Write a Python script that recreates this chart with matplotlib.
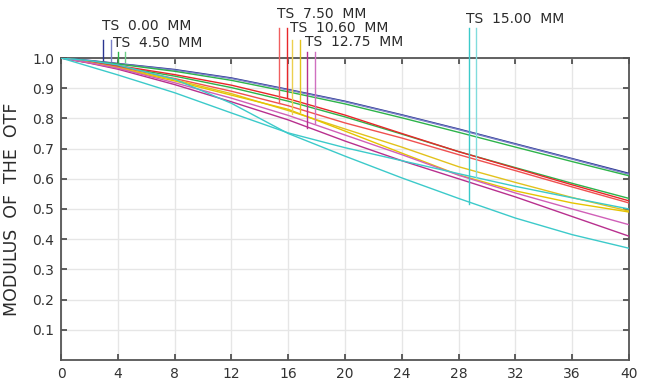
import matplotlib.pyplot as plt

# spatial frequency (cycles/mm)
freq = [0, 2, 4, 8, 12, 16, 20, 24, 28, 32, 36, 40]

# modulus of the OTF, one list per field / orientation
mtf_000_a = [1.0, 0.992, 0.982, 0.962, 0.934, 0.896, 0.857, 0.812, 0.765, 0.716, 0.667, 0.618]
mtf_000_b = [1.0, 0.991, 0.981, 0.960, 0.932, 0.894, 0.855, 0.810, 0.763, 0.714, 0.665, 0.615]
mtf_450_a = [1.0, 0.990, 0.980, 0.956, 0.926, 0.888, 0.848, 0.802, 0.754, 0.705, 0.657, 0.610]
mtf_450_b = [1.0, 0.987, 0.972, 0.940, 0.902, 0.857, 0.805, 0.748, 0.690, 0.637, 0.585, 0.535]
mtf_750_a = [1.0, 0.988, 0.975, 0.945, 0.910, 0.865, 0.811, 0.750, 0.690, 0.635, 0.580, 0.527]
mtf_750_b = [1.0, 0.985, 0.970, 0.932, 0.890, 0.842, 0.785, 0.735, 0.680, 0.627, 0.573, 0.520]
mtf_1060_a = [1.0, 0.985, 0.968, 0.928, 0.882, 0.826, 0.765, 0.705, 0.640, 0.588, 0.538, 0.493]
mtf_1060_b = [1.0, 0.984, 0.966, 0.924, 0.877, 0.830, 0.758, 0.685, 0.613, 0.560, 0.520, 0.490]
mtf_1275_a = [1.0, 0.983, 0.963, 0.912, 0.855, 0.795, 0.725, 0.660, 0.600, 0.540, 0.475, 0.410]
mtf_1275_b = [1.0, 0.984, 0.966, 0.918, 0.867, 0.810, 0.745, 0.680, 0.612, 0.553, 0.500, 0.448]
mtf_1500_a = [1.0, 0.972, 0.944, 0.885, 0.818, 0.752, 0.703, 0.660, 0.617, 0.575, 0.537, 0.500]
mtf_1500_b = [1.0, 0.991, 0.977, 0.930, 0.850, 0.750, 0.675, 0.603, 0.535, 0.470, 0.415, 0.370]

curves = [mtf_000_a, mtf_000_b, mtf_450_a, mtf_450_b, mtf_750_a, mtf_750_b,
          mtf_1060_a, mtf_1060_b, mtf_1275_a, mtf_1275_b, mtf_1500_a, mtf_1500_b]
colors = ['#2a3590', '#7a80c8', '#2db34a', '#2db34a', '#e8262a', '#f05050',
          '#e2c21c', '#e6c400', '#b8308e', '#d060b8', '#3ccaca', '#3ccaca']

# field labels and their leader lines
field_labels = ['TS  0.00  MM', 'TS  4.50  MM', 'TS  7.50  MM',
                'TS  10.60  MM', 'TS  12.75  MM', 'TS  15.00  MM']
label_pos = [(2.87, 1.106), (3.68, 1.051), (15.19, 1.146),
             (16.13, 1.098), (17.18, 1.054), (28.52, 1.130)]
marker_x = [2.98, 3.5, 4.0, 4.5, 15.35, 15.9, 16.3, 16.83, 17.35, 17.9, 28.7, 29.2]
marker_top = [1.06, 1.06, 1.02, 1.02, 1.099, 1.099, 1.06, 1.06, 1.02, 1.02, 1.099, 1.099]
marker_bottom = [0.993, 0.990, 0.988, 0.986, 0.850, 0.866, 0.815, 0.820, 0.767, 0.784, 0.517, 0.607]
marker_colors = ['#2a3590', '#7a80c8', '#2db34a', '#6fcf8a', '#f06060', '#e8262a',
                 '#ecd050', '#e2c21c', '#b8308e', '#d070c0', '#3ccaca', '#80dcdc']

xticks = list(range(0, 41, 4))
yticks = [0.1, 0.2, 0.3, 0.4, 0.5, 0.6, 0.7, 0.8, 0.9, 1.0]
ytick_labels = ['0.1', '0.2', '0.3', '0.4', '0.5', '0.6', '0.7', '0.8', '0.9', '1.0']

plt.rcParams['font.family'] = ['DejaVu Sans']
fig = plt.figure(figsize=(6.51, 3.86), dpi=100)
ax = fig.add_axes([61 / 651, 26 / 386, 568 / 651, 302 / 386])

for vals, c in zip(curves, colors):
    ax.plot(freq, vals, color=c, lw=1.0, zorder=3)

for x, top, bot, c in zip(marker_x, marker_top, marker_bottom, marker_colors):
    ax.plot([x, x], [bot, top], color=c, lw=1.0, clip_on=False, zorder=4)

for txt, (x, y) in zip(field_labels, label_pos):
    ax.text(x, y, txt, fontsize=10, color='#2b2b2b', ha='left', va='center', clip_on=False)

ax.set_xlim(0, 40)
ax.set_ylim(0, 1.0)
ax.set_xticks(xticks)
ax.set_yticks(yticks)
ax.set_yticklabels(ytick_labels)
ax.grid(True, color='#e6e6e6', lw=1.0, zorder=0)
ax.set_axisbelow(True)

ax.tick_params(direction='in', length=4.5, width=1.2, color='#444444',
               labelsize=10, labelcolor='#333333', top=True, right=True, pad=5)
for sp in ax.spines.values():
    sp.set_color('#555555')
    sp.set_linewidth(1.3)

ax.set_ylabel('MODULUS  OF  THE  OTF', fontsize=12.5, color='#2b2b2b', labelpad=8)

fig.savefig('out.png', dpi=100)
